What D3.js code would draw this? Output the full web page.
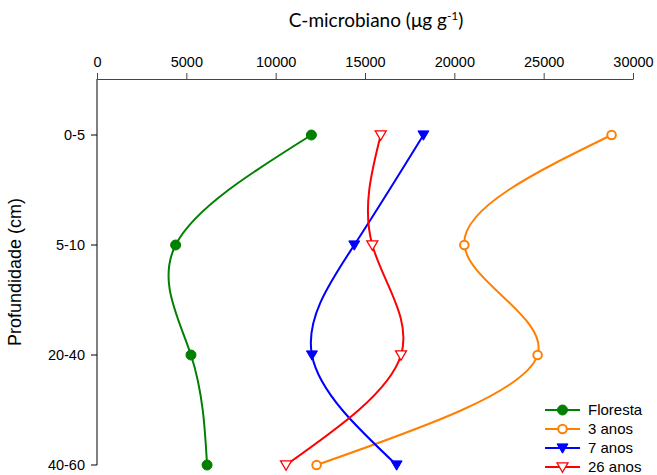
<!DOCTYPE html>
<html><head><meta charset="utf-8">
<script src="https://cdn.jsdelivr.net/npm/d3@7"></script>
<style>body{margin:0;background:#fff} svg text{font-family:"Liberation Sans", Arial, sans-serif}</style>
</head><body>
<svg id="c" width="657" height="475"></svg>
<script>
const depths = ["0-5", "5-10", "20-40", "40-60"];
const xTicks = [0, 5000, 10000, 15000, 20000, 25000, 30000];
const floresta = [12000, 4400, 5260, 6160];
const anos3 = [28800, 20560, 24660, 12290];
const anos7 = [18270, 14400, 12030, 16770];
const anos26 = [15880, 15410, 17015, 10580];
const seriesNames = ["Floresta", "3 anos", "7 anos", "26 anos"];

const series = [
  {name: seriesNames[0], values: floresta, color: "#008000", shape: "circle", fill: true},
  {name: seriesNames[1], values: anos3, color: "#ff8000", shape: "circle", fill: false},
  {name: seriesNames[2], values: anos7, color: "#0000ff", shape: "tri", fill: true},
  {name: seriesNames[3], values: anos26, color: "#ff0000", shape: "tri", fill: false}
];

const svg = d3.select("#c");
const x = d3.scaleLinear().domain([0, 30000]).range([97, 633]);
const yIdx = d3.scaleLinear().domain([-0.5, 3]).range([80, 465]);
const y = d => yIdx(depths.indexOf(d));

// axes
const xAxis = svg.append("g").attr("transform", "translate(0,79)")
  .call(d3.axisTop(x).tickValues(xTicks).tickFormat(d3.format("d")).tickSize(6).tickSizeOuter(0));
xAxis.attr("font-family", null);
xAxis.selectAll("text").attr("font-size", 14.5).attr("fill", "#000").attr("dy", "-0.2em");
xAxis.select(".domain").attr("stroke", "#444");
xAxis.selectAll(".tick line").attr("stroke", "#444");

const yAxis = svg.append("g").attr("transform", "translate(97,0)");
yAxis.append("line").attr("x1", 0).attr("x2", 0).attr("y1", 79).attr("y2", yIdx(3)).attr("stroke", "#000");
const yt = yAxis.selectAll(".yt").data(depths).enter().append("g").attr("transform", d => `translate(0,${y(d)})`);
yt.append("line").attr("x1", -6).attr("x2", 0).attr("stroke", "#000");
yt.append("text").attr("x", -12).attr("dy", "0.35em").attr("text-anchor", "end")
  .attr("font-size", 14.5).text(d => d);

// titles
const t = svg.append("text").attr("x", 376).attr("y", 27).attr("text-anchor", "middle")
  .style("font-family", "Lato, 'Open Sans', sans-serif").attr("font-size", 19);
t.append("tspan").text("C-microbiano (μg g");
t.append("tspan").attr("dy", -7).attr("font-size", 12).text("-1");
t.append("tspan").attr("dy", 7).text(")");

svg.append("text").attr("transform", "translate(21,272) rotate(-90)").attr("text-anchor", "middle")
  .attr("font-size", 18).text("Profundidade (cm)");

const line = d3.line().x(d => x(d[0])).y(d => y(d[1])).curve(d3.curveNatural);

function marker(g, s, cx, cy) {
  if (s.shape === "circle") {
    g.append("circle").attr("cx", cx).attr("cy", cy).attr("r", s.fill ? 5 : 4.3)
      .attr("fill", s.fill ? s.color : "#fff").attr("stroke", s.color).attr("stroke-width", s.fill ? 1 : 2);
  } else {
    const r = 5.5;
    g.append("path").attr("d", `M${cx - r},${cy - r * 0.75}L${cx + r},${cy - r * 0.75}L${cx},${cy + r * 0.95}Z`)
      .attr("fill", s.fill ? s.color : "#fff").attr("stroke", s.color).attr("stroke-width", s.fill ? 1 : 1.3);
  }
}

series.forEach(s => {
  const pts = s.values.map((v, i) => [v, depths[i]]);
  svg.append("path").attr("d", line(pts)).attr("fill", "none").attr("stroke", s.color).attr("stroke-width", 2);
});
series.forEach(s => {
  const g = svg.append("g");
  s.values.forEach((v, i) => marker(g, s, x(v), y(depths[i])));
});

// legend
const lg = svg.append("g");
series.forEach((s, i) => {
  const yy = 410 + i * 19;
  lg.append("line").attr("x1", 545).attr("x2", 580).attr("y1", yy).attr("y2", yy).attr("stroke", s.color).attr("stroke-width", 2);
  marker(lg, s, 562.5, yy);
  lg.append("text").attr("x", 588).attr("y", yy).attr("dy", "0.36em")
    .attr("font-size", 15).text(s.name);
});
</script>
</body></html>
